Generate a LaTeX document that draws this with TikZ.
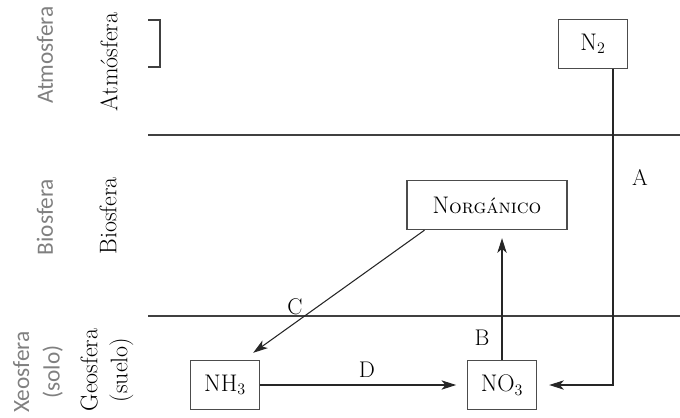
\documentclass[tikz,border=0pt]{standalone}
\usepackage{fontspec}
\newfontfamily\graysans{Carlito}
\usetikzlibrary{arrows.meta,calc}
\begin{document}
\begin{tikzpicture}[x=0.75pt,y=-0.75pt,
   caja/.style={draw=black!70,line width=0.8pt,minimum width=52pt,minimum height=37pt,inner sep=0pt,font=\fontsize{18}{20}\selectfont},
   capa/.style={rotate=90,align=center,font=\fontsize{18}{22.5}\selectfont},
   capagris/.style={rotate=90,align=center,text=black!50,font=\graysans\fontsize{17.5}{23}\selectfont},
   flecha/.style={-{Stealth[length=11pt,width=7pt,inset=3pt]},line width=0.8pt,draw=black!85},
   letra/.style={font=\fontsize{17}{18}\selectfont}]
   \useasboundingbox (0,0) rectangle (680,417);
   \node[capagris] (g1) at (45,55) {Atmosfera};
   \node[capagris] (g2) at (45,217) {Biosfera};
   \node[capagris] (g3) at (38,372) {Xeosfera\\(solo)};
   \node[capa] (c1) at (109,62) {Atmósfera};
   \node[capa] (c2) at (108,216) {Biosfera};
   \node[capa] (c3) at (107,370) {Geosfera\\(suelo)};

   \draw[black!75,line width=0.8pt] (148,20) -- (160,20) -- (160,67) -- (148,67);
   \coordinate (l1) at (148,135);
   \coordinate (l2) at (148,316);
   \draw[black!75,line width=0.8pt] (l1) -- ++(532,0);
   \draw[black!75,line width=0.8pt] (l2) -- ++(532,0);

   \node[caja] (n2) at (593,44) {N$_2$};
   \node[caja,minimum width=120pt] (norg) at (487,205) {N{\fontsize{15}{18}\selectfont\textsc{orgánico}}};
   \node[caja] (nh3) at (225,385) {NH$_3$};
   \node[caja] (no3) at (502,385) {NO$_3$};

   \draw[flecha] ($(n2.south)+(20,0)$) |- (no3.east) [shorten >=9pt];
   \draw[flecha,shorten >=6pt] (no3.north) -- (no3.north |- norg.south);
   \draw[flecha] ($(norg.south west)+(18,0)$) -- ($(nh3.north east)+(-7,-7)$);
   \draw[flecha,shorten >=8pt] (nh3.east) -- (no3.west);

   \node[letra] (la) at (640,177) {A};
   \node[letra] (lb) at (482,338) {B};
   \node[letra] (lc) at (295,307) {C};
   \node[letra] (ld) at (367,370) {D};
\end{tikzpicture}
\end{document}
